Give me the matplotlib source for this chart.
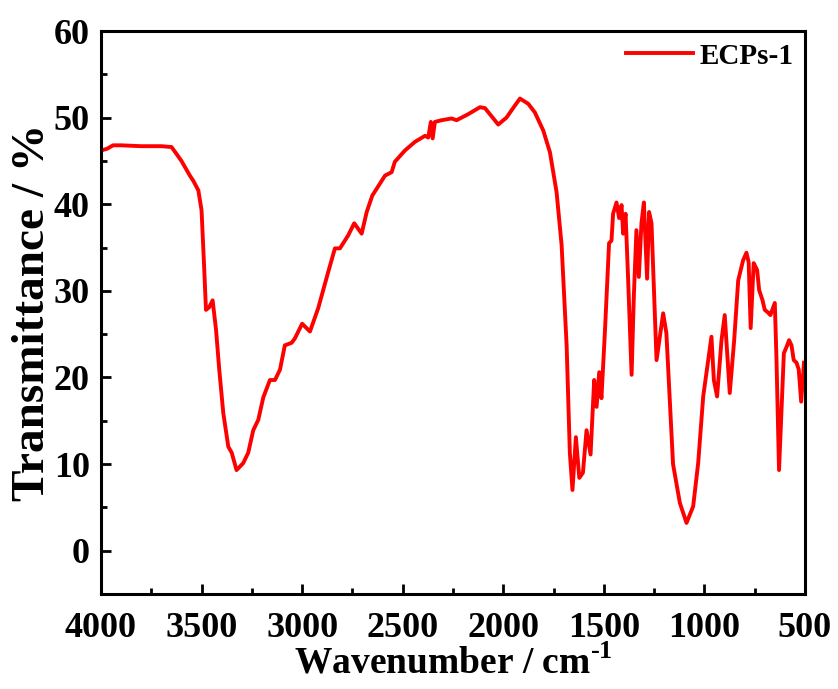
import numpy as np
import matplotlib
matplotlib.use("Agg")
import matplotlib.pyplot as plt
from matplotlib.ticker import MultipleLocator

# --- DATA ---
wavenumber = [4000, 3970, 3940, 3900, 3800, 3700, 3649, 3600, 3558, 3541, 3516,
              3500, 3488, 3478, 3462, 3445, 3428, 3412, 3392, 3367, 3350, 3326,
              3293, 3268, 3243, 3218, 3193, 3160, 3135, 3110, 3086, 3052, 3036,
              3000, 2961, 2920, 2870, 2837, 2812, 2771, 2741, 2704, 2679, 2651,
              2588, 2555, 2539, 2489, 2439, 2389, 2373, 2360, 2351, 2340, 2307,
              2257, 2232, 2174, 2116, 2091, 2025, 1984, 1942, 1917, 1876, 1843,
              1801, 1768, 1735, 1710, 1685, 1669, 1656, 1639, 1622, 1604, 1586,
              1566, 1548, 1536, 1523, 1512, 1495, 1474, 1462, 1454, 1437, 1424,
              1412, 1404, 1392, 1379, 1362, 1351, 1338, 1326, 1313, 1301, 1285,
              1275, 1263, 1238, 1205, 1189, 1156, 1122, 1089, 1056, 1031, 1006,
              965, 953, 937, 915, 899, 874, 852, 832, 808, 791, 780, 770, 755,
              738, 728, 711, 700, 684, 672, 650, 642, 629, 617, 605, 592, 579,
              567, 556, 542, 531, 519, 505]
transmittance = [46.2, 46.4, 46.8, 46.8, 46.7, 46.7, 46.6, 45.0, 43.3, 42.7, 41.6,
                 39.3, 33.2, 27.8, 28.1, 28.9, 25.5, 20.9, 15.9, 12.0, 11.3, 9.3,
                 10.1, 11.3, 13.9, 15.1, 17.7, 19.7, 19.7, 20.9, 23.7, 24.0, 24.5,
                 26.2, 25.3, 28.0, 32.2, 34.9, 34.9, 36.4, 37.8, 36.6, 39.1, 41.0,
                 43.3, 43.7, 44.9, 46.2, 47.2, 47.9, 47.7, 49.5, 47.6, 49.5, 49.7,
                 49.9, 49.7, 50.4, 51.2, 51.1, 49.2, 50.0, 51.4, 52.2, 51.6, 50.6,
                 48.5, 46.0, 41.4, 35.3, 23.7, 11.3, 7.0, 13.1, 8.4, 9.0, 13.9,
                 11.1, 19.7, 16.6, 20.6, 17.6, 25.1, 35.5, 35.8, 38.9, 40.2, 38.4,
                 39.9, 36.6, 38.9, 31.2, 20.3, 29.3, 37.0, 31.6, 37.8, 40.2, 31.4,
                 39.1, 37.8, 22.0, 27.4, 25.1, 10.0, 5.5, 3.2, 5.1, 10.1, 17.8,
                 24.7, 19.7, 17.8, 24.3, 27.2, 18.2, 24.3, 31.2, 33.5, 34.4, 33.3,
                 25.7, 33.2, 32.4, 30.1, 28.9, 27.8, 27.5, 27.2, 28.6, 22.4, 9.3,
                 15.9, 22.8, 23.5, 24.3, 23.7, 22.0, 21.7, 20.9, 17.2, 21.7]
series_label = "ECPs-1"

plt.rcParams['font.family'] = ['Liberation Serif', 'DejaVu Serif']
plt.rcParams['font.weight'] = 'bold'
plt.rcParams['mathtext.fontset'] = 'custom'
plt.rcParams['mathtext.rm'] = 'Liberation Serif:bold'
plt.rcParams['mathtext.bf'] = 'Liberation Serif:bold'

fig = plt.figure(figsize=(8.38, 6.89), dpi=100)
ax = fig.add_axes([0.1205, 0.138, 0.8401, 0.817])

ax.plot(wavenumber, transmittance, color='#ff0000', linewidth=2.8, label=series_label)

ax.set_xlim(4000, 500)
ax.set_ylim(-5, 60)
ax.xaxis.set_major_locator(MultipleLocator(500))
ax.xaxis.set_minor_locator(MultipleLocator(250))
ax.yaxis.set_major_locator(MultipleLocator(10))
ax.yaxis.set_minor_locator(MultipleLocator(5))

ax.tick_params(which='both', direction='in', width=2, labelsize=26)
ax.tick_params(axis='x', pad=13)
ax.tick_params(axis='y', pad=8)
ax.tick_params(which='major', length=7)
ax.tick_params(which='minor', length=4)
for lbl in ax.get_xticklabels() + ax.get_yticklabels():
    lbl.set_fontweight('bold')
for s in ax.spines.values():
    s.set_linewidth(2.2)

ax.set_xlabel("Wavenumber / cm$^{\\text{-1}}$", fontsize=27, fontweight='bold', labelpad=0)
ax.set_ylabel("Transmittance / %", fontsize=34, fontweight='bold', labelpad=0)

ax.legend(loc='upper right', frameon=False, handlelength=2.3,
          handletextpad=0.2, borderaxespad=0.0, borderpad=0.4,
          prop={'weight': 'bold', 'size': 21})

fig.savefig("out.png", dpi=100)
